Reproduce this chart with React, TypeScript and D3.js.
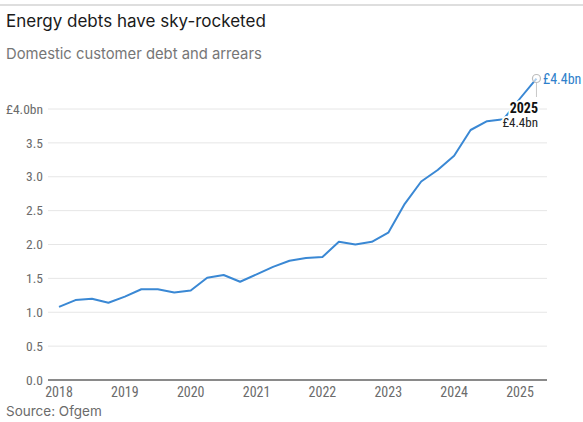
import React from "react";
import * as d3 from "d3";

const quarters: number[] = [
  2018, 2018.25, 2018.5, 2018.75,
  2019, 2019.25, 2019.5, 2019.75,
  2020, 2020.25, 2020.5, 2020.75,
  2021, 2021.25, 2021.5, 2021.75,
  2022, 2022.25, 2022.5, 2022.75,
  2023, 2023.25, 2023.5, 2023.75,
  2024, 2024.25, 2024.5, 2024.75,
  2025, 2025.25,
];
const debt: number[] = [
  1.08, 1.18, 1.2, 1.14,
  1.23, 1.34, 1.34, 1.29,
  1.32, 1.51, 1.55, 1.45,
  1.56, 1.67, 1.76, 1.8,
  1.815, 2.04, 2.0, 2.04,
  2.175, 2.6, 2.93, 3.1,
  3.31, 3.69, 3.82, 3.85,
  4.155, 4.45,
];
const yTicks: number[] = [0, 0.5, 1, 1.5, 2, 2.5, 3, 3.5, 4];
const xTicks: number[] = [2018, 2019, 2020, 2021, 2022, 2023, 2024, 2025];

const W = 583;
const H = 422;
const plotLeft = 48;
const plotRight = 547;

export default function App() {
  const x = d3.scaleLinear().domain([2018, 2025]).range([59, 520]);
  const y = d3.scaleLinear().domain([0, 4]).range([380, 109]);
  const pts = quarters.map((q, i) => [q, debt[i]] as [number, number]);
  const line = d3
    .line<[number, number]>()
    .x((d) => x(d[0]))
    .y((d) => y(d[1]));
  const last = pts[pts.length - 1];
  const lx = x(last[0]);
  const ly = y(last[1]);
  const tickFont = "'Liberation Sans Narrow', 'Roboto Condensed', Roboto, sans-serif";
  const headFont = "Inter, Roboto, sans-serif";
  const blue = "#3a88d4";
  return (
    <svg
      width={W}
      height={H}
      style={{ position: "absolute", left: 0, top: 0, background: "#fff" }}
    >
      <line x1={0} x2={W} y1={5} y2={5} stroke="#bdbdbd" strokeWidth={1} />
      <text x={6} y={27} fontFamily={headFont} fontSize={17} fill="#1a1a1a">
        Energy debts have sky-rocketed
      </text>
      <text x={6} y={58.5} fontFamily={headFont} fontSize={14.8} fill="#767676">
        Domestic customer debt and arrears
      </text>
      {yTicks.map((t) =>
        t === 0 ? null : (
          <line key={"g" + t} x1={plotLeft} x2={plotRight} y1={y(t)} y2={y(t)} stroke="#e6e6e6" strokeWidth={1} />
        )
      )}
      {yTicks.map((t) => (
        <text
          key={"yt" + t}
          x={43}
          y={y(t)}
          dy="0.35em"
          textAnchor="end"
          fontFamily={tickFont}
          fontSize={13.5}
          fill="#6b6b6b"
        >
          {t === 4 ? "£4.0bn" : d3.format(".1f")(t)}
        </text>
      ))}
      <line x1={plotLeft} x2={plotRight} y1={y(0)} y2={y(0)} stroke="#8a8a8a" strokeWidth={2} />
      {xTicks.map((t) => (
        <text
          key={"xt" + t}
          x={x(t)}
          y={397}
          textAnchor="middle"
          fontFamily={tickFont}
          fontSize={14}
          fill="#6b6b6b"
        >
          {t}
        </text>
      ))}
      <path d={line(pts) || ""} fill="none" stroke={blue} strokeWidth={2} strokeLinejoin="round" />
      <line x1={lx} x2={lx} y1={ly + 4} y2={97} stroke="#c8c8c8" strokeWidth={1} />
      <circle cx={lx} cy={ly} r={4} fill="#fff" fillOpacity={0.6} stroke="#bdbdbd" strokeWidth={1.2} />
      <text x={543} y={84} fontFamily={tickFont} fontSize={14} fill="#2f7fcb">
        £4.4bn
      </text>
      <text
        x={538}
        y={113}
        textAnchor="end"
        fontFamily={tickFont}
        fontSize={14}
        fontWeight={700}
        fill="#111"
        stroke="#fff"
        strokeWidth={4}
        paintOrder="stroke"
      >
        2025
      </text>
      <text
        x={538}
        y={127}
        textAnchor="end"
        fontFamily={tickFont}
        fontSize={13}
        fill="#222"
        stroke="#fff"
        strokeWidth={4}
        paintOrder="stroke"
      >
        £4.4bn
      </text>
      <text x={6} y={416} fontFamily={headFont} fontSize={13.5} fill="#6b6b6b">
        Source: Ofgem
      </text>
    </svg>
  );
}
